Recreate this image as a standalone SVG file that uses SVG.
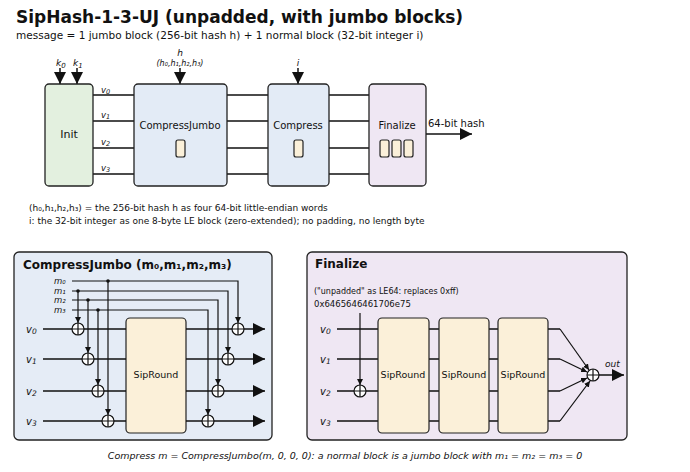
<svg xmlns="http://www.w3.org/2000/svg" width="690" height="472" viewBox="0 0 690 472">
<style>
text{font-family:"DejaVu Sans","Noto Sans",sans-serif;fill:#111}
.ln{stroke:#111;stroke-width:1.5;fill:none}
.box{stroke:#222;stroke-width:1.3}
.sr{fill:#fbf0d9;stroke:#222;stroke-width:1.2}
.it{font-style:italic}
.x{fill:none;stroke:#111;stroke-width:1.2}
.ab{marker-end:url(#b)}
.as{marker-end:url(#s)}
</style>
<defs>
<marker id="b" viewBox="0 0 10 10" refX="10" refY="5" markerWidth="12" markerHeight="12" markerUnits="userSpaceOnUse" orient="auto"><path d="M0,0L10,5L0,10z" fill="#111"/></marker>
<marker id="s" viewBox="0 0 10 10" refX="10" refY="5" markerWidth="6" markerHeight="6" markerUnits="userSpaceOnUse" orient="auto"><path d="M0,0L10,5L0,10z" fill="#111"/></marker>
<g id="xor"><circle r="6" fill="#fff" stroke="#111" stroke-width="1.2"/><path d="M-6,0H6M0,-6V6" stroke="#111" stroke-width="1.2"/></g>
</defs>
<rect width="690" height="472" fill="#fff"/>
<text x="16" y="23" font-size="17" font-weight="bold">SipHash-1-3-UJ (unpadded, with jumbo blocks)</text>
<text x="16" y="39" font-size="10.5">message = 1 jumbo block (256-bit hash h) + 1 normal block (32-bit integer i)</text>

<g id="connectors">
<path class="ln" d="M93,95H134M93,121H134M93,148H134M93,174H134M227,95H268M227,121H268M227,148H268M227,174H268M329,95H369M329,121H369M329,148H369M329,174H369"/>
<path class="ln ab" d="M60,68V84"/><path class="ln ab" d="M77,68V84"/><path class="ln ab" d="M180,68V84"/><path class="ln ab" d="M298,68V84"/>
<path class="ln ab" d="M426,134H472"/>
</g>
<text x="56" y="66" font-size="9" class="it">k<tspan font-size="7" dy="2">0</tspan></text>
<text x="73" y="66" font-size="9" class="it">k<tspan font-size="7" dy="2">1</tspan></text>
<text x="180" y="56" font-size="9" class="it" text-anchor="middle">h</text>
<text x="180" y="66" font-size="8" class="it" text-anchor="middle">(h₀,h₁,h₂,h₃)</text>
<text x="298" y="66" font-size="9" class="it" text-anchor="middle">i</text>
<g font-size="8.5" class="it"><text x="101" y="93">v<tspan font-size="6.5" dy="1">0</tspan></text><text x="101" y="118">v<tspan font-size="6.5" dy="1">1</tspan></text><text x="101" y="145">v<tspan font-size="6.5" dy="1">2</tspan></text><text x="101" y="171">v<tspan font-size="6.5" dy="1">3</tspan></text></g>
<g id="init"><rect class="box" x="45" y="84" width="48" height="102" rx="4" fill="#e3f0df"/><text x="69" y="138" font-size="11" text-anchor="middle">Init</text></g>
<g id="cj"><rect class="box" x="134" y="84" width="93" height="102" rx="4" fill="#e3ebf6"/><text x="180" y="129" font-size="10" text-anchor="middle">CompressJumbo</text><rect class="sr" x="176" y="140" width="9" height="17" rx="2"/></g>
<g id="comp"><rect class="box" x="268" y="84" width="61" height="102" rx="4" fill="#e3ebf6"/><text x="298" y="129" font-size="10" text-anchor="middle">Compress</text><rect class="sr" x="294" y="140" width="9" height="17" rx="2"/></g>
<g id="fin"><rect class="box" x="369" y="84" width="57" height="102" rx="4" fill="#efe7f3"/><text x="397" y="129" font-size="10" text-anchor="middle">Finalize</text><rect class="sr" x="380" y="140" width="9" height="17" rx="2"/><rect class="sr" x="392" y="140" width="9" height="17" rx="2"/><rect class="sr" x="404" y="140" width="9" height="17" rx="2"/></g>
<text x="428" y="127" font-size="10">64-bit hash</text>
<text x="29" y="211" font-size="9">(h₀,h₁,h₂,h₃) = the 256-bit hash h as four 64-bit little-endian words</text>
<text x="29" y="224" font-size="9">i: the 32-bit integer as one 8-byte LE block (zero-extended); no padding, no length byte</text>

<g id="panelCJ">
<rect x="14" y="252" width="258" height="188" rx="5" fill="#e5ecf6" stroke="#222" stroke-width="1.3"/>
<text x="23" y="269" font-size="12" font-weight="bold">CompressJumbo (m₀,m₁,m₂,m₃)</text>
<g font-size="8.5" class="it"><text x="54" y="284">m₀</text><text x="54" y="294">m₁</text><text x="54" y="303">m₂</text><text x="54" y="313">m₃</text></g>
<g font-size="10" class="it"><text x="26" y="333">v<tspan font-size="7.5" dy="1">0</tspan></text><text x="26" y="363">v<tspan font-size="7.5" dy="1">1</tspan></text><text x="26" y="395">v<tspan font-size="7.5" dy="1">2</tspan></text><text x="26" y="425">v<tspan font-size="7.5" dy="1">3</tspan></text></g>
<rect class="sr" x="126" y="318" width="60" height="115" rx="4"/>
<text x="156" y="378" font-size="9.5" text-anchor="middle">SipRound</text>
<path class="ln" d="M43,329H126M43,359H126M43,391H126M43,421H126"/>
<path class="ln ab" d="M186,329H265"/><path class="ln ab" d="M186,359H265"/><path class="ln ab" d="M186,391H265"/><path class="ln ab" d="M186,421H265"/>
<path class="x as" d="M72,281H238V323"/><path class="x as" d="M72,291H228V353"/><path class="x as" d="M72,300H218V385"/><path class="x as" d="M72,310H208V415"/>
<path class="x as" d="M78,291V323"/><path class="x as" d="M88,300V353"/><path class="x as" d="M98,310V385"/><path class="x as" d="M108,281V415"/>
<g fill="#111"><circle cx="78" cy="291" r="1.8"/><circle cx="88" cy="300" r="1.8"/><circle cx="98" cy="310" r="1.8"/><circle cx="108" cy="281" r="1.8"/></g>
<use href="#xor" x="78" y="329"/><use href="#xor" x="88" y="359"/><use href="#xor" x="98" y="391"/><use href="#xor" x="108" y="421"/>
<use href="#xor" x="238" y="329"/><use href="#xor" x="228" y="359"/><use href="#xor" x="218" y="391"/><use href="#xor" x="208" y="421"/>
</g>

<g id="panelFin">
<rect x="307" y="252" width="320" height="188" rx="5" fill="#efe7f3" stroke="#222" stroke-width="1.3"/>
<text x="315" y="268" font-size="12" font-weight="bold">Finalize</text>
<text x="314" y="294" font-size="8">("unpadded" as LE64: replaces 0xff)</text>
<text x="314" y="307" font-size="8.5" font-family="DejaVu Sans Mono,monospace">0x6465646461706e75</text>
<g font-size="10" class="it"><text x="320" y="333">v<tspan font-size="7.5" dy="1">0</tspan></text><text x="320" y="363">v<tspan font-size="7.5" dy="1">1</tspan></text><text x="320" y="395">v<tspan font-size="7.5" dy="1">2</tspan></text><text x="320" y="425">v<tspan font-size="7.5" dy="1">3</tspan></text></g>
<path class="ln" d="M337,329H378M337,359H378M337,391H378M337,421H378M429,329H439M429,359H439M429,391H439M429,421H439M489,329H498M489,359H498M489,391H498M489,421H498"/>
<path class="ln" d="M548,329H560M548,359H560M548,391H560M548,421H560"/>
<path class="x as" d="M360,313V385"/>
<use href="#xor" x="360" y="391"/>
<rect class="sr" x="378" y="318" width="51" height="115" rx="4"/><rect class="sr" x="439" y="318" width="50" height="115" rx="4"/><rect class="sr" x="498" y="318" width="50" height="115" rx="4"/>
<g font-size="9.5" text-anchor="middle"><text x="403" y="378">SipRound</text><text x="464" y="378">SipRound</text><text x="523" y="378">SipRound</text></g>
<path class="x as" d="M560,329L589,370"/><path class="x as" d="M560,359L587,372"/><path class="x as" d="M560,391L587,378"/><path class="x as" d="M560,421L590,381"/>
<use href="#xor" x="593" y="375"/>
<path class="ln ab" d="M599,375H624"/>
<text x="605" y="367" font-size="9" class="it">out</text>
</g>
<text x="345" y="459" font-size="9.5" class="it" text-anchor="middle">Compress m = CompressJumbo(m, 0, 0, 0): a normal block is a jumbo block with m₁ = m₂ = m₃ = 0</text>
</svg>
